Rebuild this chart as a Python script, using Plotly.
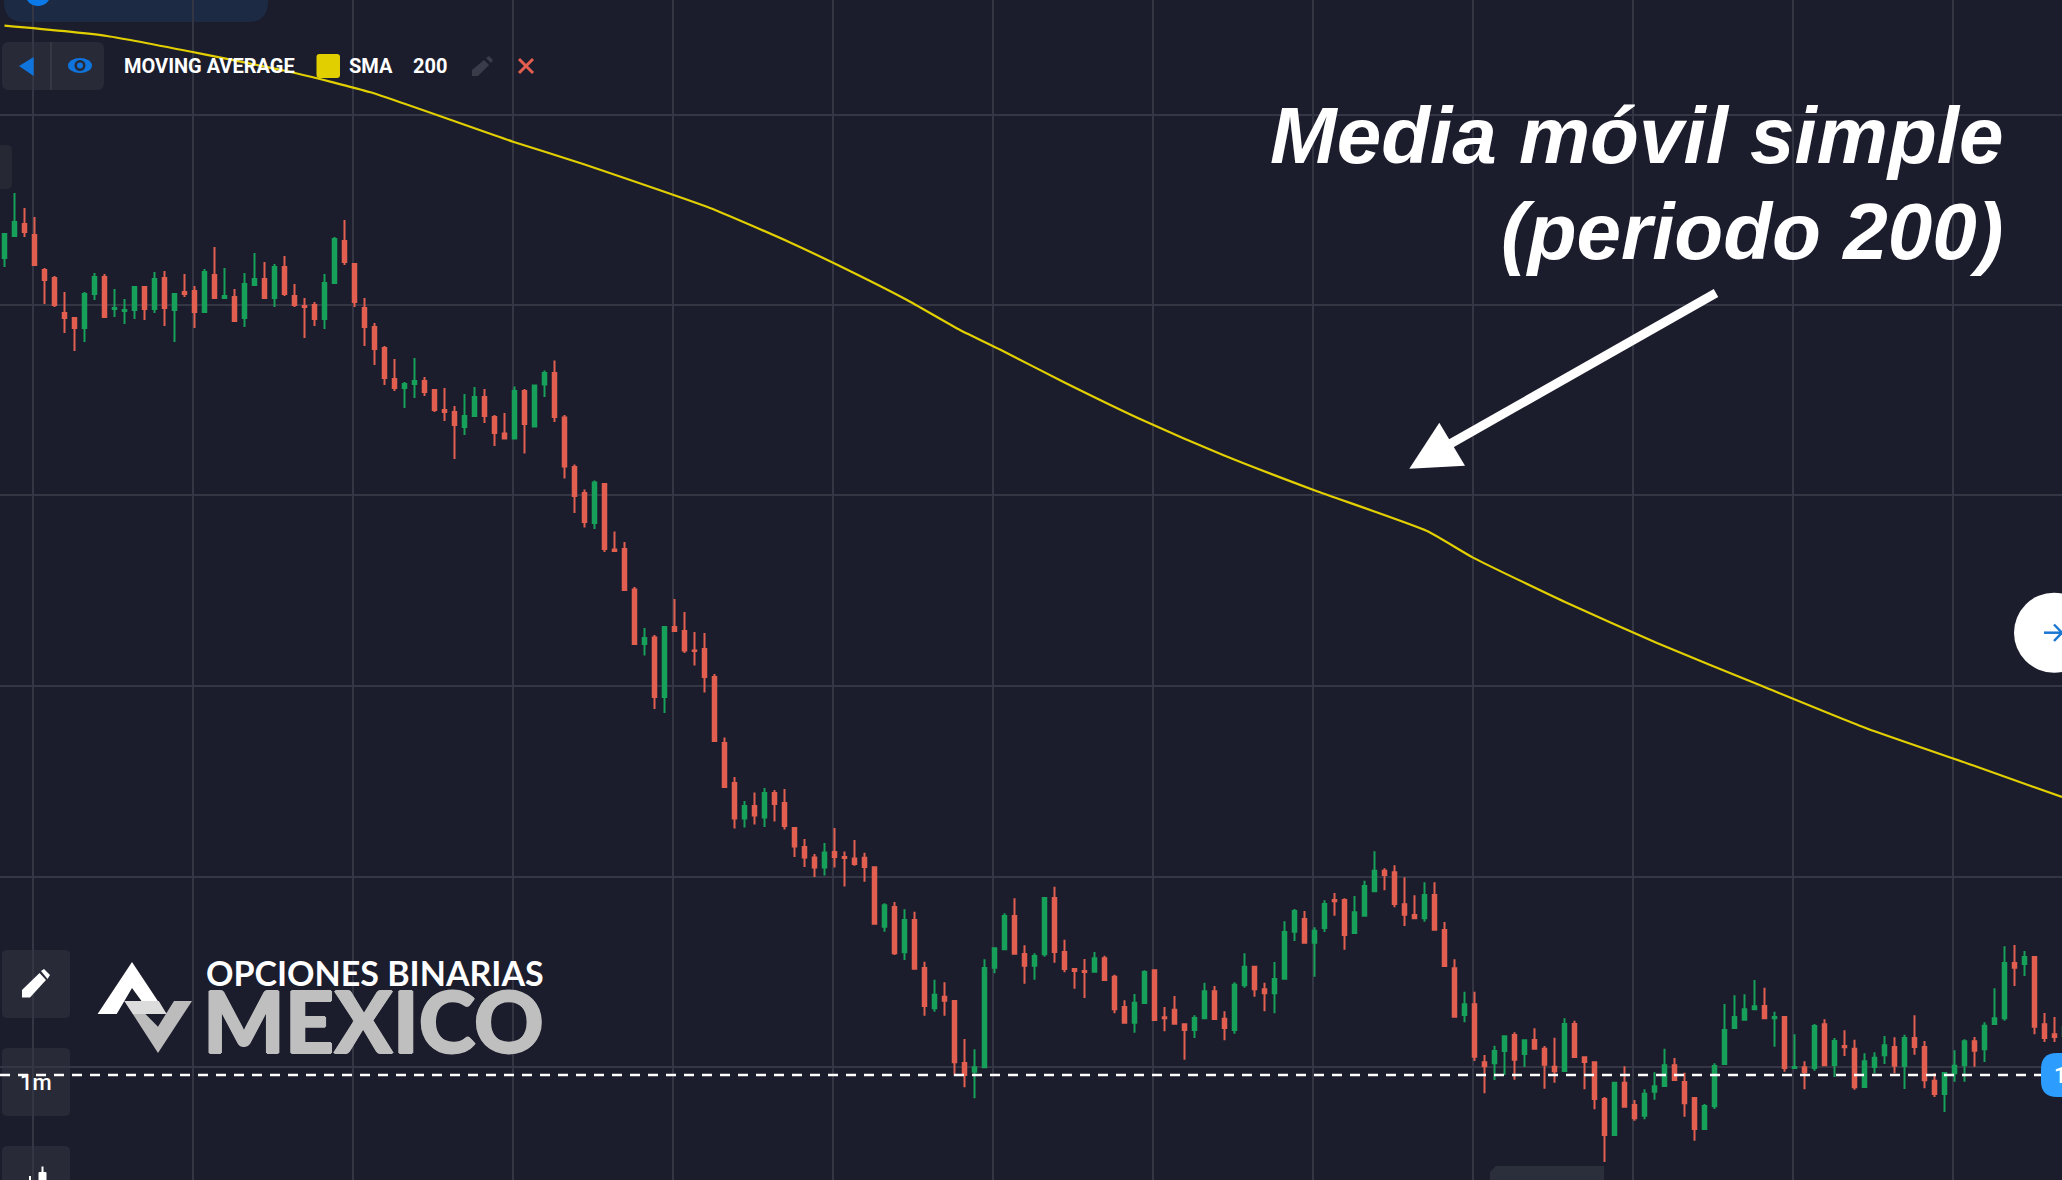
import numpy as np
import plotly.graph_objects as go

# all values, in pixels from the top edge
PAGE_W = 2062
PAGE_H = 1180

candle_dirs = (
    "GGRRRRRRGG" "RGGGRGRGRR" "GRGRGGRGRR" "RRGGRRRRRR" "GGRRRRGGRR"
    "RGRGGRRRRG" "RRRRGRGRRR" "RRRRGRGRRR" "RRGRRRRRGR" "GRRGRRRGGG"
    "GRRGGRRRRG" "RRRGGRRRRG" "GRRGGRRGGG" "RGGRRGGGRR" "RRGRRRGRRG"
    "GRGRRRGRRR" "RGRRGGGRRR" "GGGGGGRGRG" "RGRGRRGGGR" "GRRRGGGRGG"
    "GRGRRRG"
)

body_top = [
    234, 222, 224, 235, 270, 278, 313, 318, 294, 277,
    277, 308, 310, 287, 287, 279, 278, 294, 292, 291,
    272, 275, 296, 297, 284, 279, 279, 267, 267, 296,
    306, 305, 283, 239, 241, 264, 308, 327, 348, 379,
    384, 381, 381, 390, 410, 412, 416, 397, 397, 417,
    433.5, 391, 391, 385.5, 373, 373, 417.5, 467, 493, 482.5,
    484, 549.5, 549, 589.5, 638, 637.5, 627, 627, 631, 650.5,
    649, 677, 743, 783, 806, 806, 793, 793, 803, 828,
    847, 857.5, 852.5, 852, 857, 858.5, 857.7, 867.3, 905.3, 907,
    920, 920, 968, 994.7, 996.7, 1001, 1063, 1067.3, 968, 948.3,
    916, 916, 954, 956, 898, 898, 952, 969, 971, 958.3,
    958.3, 976.7, 1007, 1002.7, 972, 970.3, 1017.3, 1009.7, 1024.3, 1018,
    991.3, 991.3, 1018.7, 984.7, 966.7, 966.7, 989.3, 979, 932, 911,
    919, 930.7, 904, 900, 900, 912.3, 886, 870.7, 870.7, 872.3,
    904.3, 915, 895, 895, 930, 968.3, 1004.3, 1004.3, 1062.3, 1051,
    1036.3, 1035, 1040.3, 1040, 1048.7, 1066.7, 1024, 1024, 1057.3, 1062.3,
    1099, 1082.7, 1082.7, 1105, 1093.7, 1086.3, 1065.3, 1065.3, 1082, 1098,
    1106, 1066, 1030, 1017, 1009.3, 1006.3, 1006, 1017, 1017, 1067,
    1067.3, 1026, 1024.3, 1041, 1046, 1048.7, 1061.3, 1057.7, 1045.3, 1047,
    1038, 1038, 1047, 1080.7, 1073, 1065.7, 1041.3, 1041.3, 1025.7, 1018.3,
    963, 963, 957, 957, 1024.3, 1034.3, 1027,
]
body_bottom = [
    258, 236, 232, 265, 280, 305, 318, 328, 328, 294,
    317, 309, 311, 310, 309, 309, 308, 310, 294, 312,
    312, 298, 298, 321, 318, 285, 298, 298, 294, 305,
    307, 319, 319, 283, 262, 302, 327, 349, 378, 388,
    388, 384, 392, 410, 412, 425, 427, 416, 416, 433,
    438.5, 438.5, 424, 426.5, 384.5, 417, 466.5, 496, 522, 523,
    549, 551, 590, 644, 644, 697, 697, 631, 650.5, 651,
    677, 741, 787, 818.5, 818.5, 815.5, 817.5, 804, 826, 846.5,
    857.5, 867.5, 867.5, 857, 858, 864, 867, 923.7, 926.7, 953.3,
    952.3, 968.7, 1006, 1008.3, 1000.7, 1062.3, 1075, 1071.7, 1067.3, 967.7,
    949.3, 953.7, 965.7, 965.7, 954.3, 952, 969, 971, 972, 971.7,
    980, 1009.3, 1022.7, 1022.7, 1003, 1020, 1018.3, 1023.7, 1030, 1030,
    1018.3, 1019, 1028, 1030, 985.3, 989.3, 993.3, 993.3, 978.7, 931.7,
    942.7, 942.7, 928, 901.3, 935, 933, 915.7, 891.3, 875, 904,
    914.7, 918.3, 918.3, 929.7, 966, 1016.7, 1015, 1056.7, 1066.3, 1063.3,
    1051, 1059.7, 1054, 1048.7, 1064.7, 1071.3, 1071, 1057, 1062, 1099,
    1135, 1135, 1106.7, 1118.3, 1115.7, 1091.7, 1086, 1080, 1103.3, 1129,
    1129, 1106.3, 1064, 1028, 1019.7, 1009.3, 1018.3, 1018.3, 1068, 1068,
    1072.3, 1068, 1065.3, 1065, 1047.3, 1087.3, 1087, 1067, 1055.3, 1065.7,
    1066, 1047, 1080.3, 1094, 1094, 1073.3, 1065.3, 1050.7, 1049.3, 1024,
    1018.3, 967.7, 964, 1026.7, 1038, 1037, 1036,
]
wick_top = [
    233, 193, 208, 217, 268, 276, 292, 318, 292, 273,
    274, 289, 299, 286, 286, 272, 271, 294, 274, 286,
    269, 247, 268, 289, 273, 253, 262, 264, 256, 284,
    298, 302, 274, 237, 220, 264, 298, 323, 346, 359,
    382, 358, 377, 389, 388, 406, 394, 387, 389, 415,
    413, 386.5, 389, 385.5, 370.5, 360.5, 415, 464.5, 489.5, 480.5,
    484, 531.5, 542, 587, 628, 635, 627, 599, 612, 632,
    633, 674, 737.5, 777, 801, 792.5, 788, 790, 789, 828,
    839, 854, 843, 828, 851.5, 840, 852.7, 867.3, 903.3, 902,
    909.3, 911.7, 961.7, 979.7, 982.3, 1001, 1039, 1049.3, 959.3, 948.3,
    913.3, 898.3, 945.3, 953.3, 898, 886.7, 939.7, 969, 959, 952,
    955.7, 974.7, 1000.3, 994, 970.3, 970.3, 1007, 996, 1024.3, 1015.3,
    982.7, 986, 1011.3, 982.3, 953.3, 966.7, 982.7, 962, 921.3, 909,
    911, 927.3, 900.3, 893, 898.3, 896, 880.7, 851.3, 868.3, 865.3,
    877.3, 895.3, 882.3, 882.3, 922, 959.3, 991.7, 991.7, 1055, 1045.7,
    1036.3, 1032.3, 1040.3, 1028.3, 1046, 1037.7, 1018.3, 1020.7, 1057.3, 1062.3,
    1097, 1082.7, 1066.3, 1100, 1089.3, 1072.3, 1048.7, 1058, 1072.7, 1098,
    1104, 1063.3, 1004, 995.3, 994.3, 980, 987.7, 1011.7, 1017, 1034.3,
    1061.3, 1024, 1019.3, 1038, 1030.3, 1039.7, 1053.3, 1052.3, 1036, 1037.3,
    1034.7, 1015.3, 1041, 1073.3, 1073, 1050.3, 1039.3, 1037, 1022.3, 988.3,
    946.3, 945, 951, 957, 1013, 1017, 1020,
]
wick_bottom = [
    267, 236, 237, 265, 304, 307, 333, 351, 342, 300,
    318, 317, 324, 319, 320, 313, 326, 342, 297, 328,
    313, 299, 299, 321, 327, 286, 299, 307, 296, 307,
    338, 326, 329, 283, 265, 307, 346, 365, 385, 391,
    408, 398, 396, 412, 421, 459, 435, 416, 423, 446,
    439, 438.5, 453.5, 427, 397, 422, 478.5, 513, 527.5, 529,
    552, 551.5, 590, 645, 655.5, 709, 713, 631, 653, 665.5,
    692.5, 741, 787.5, 828.5, 827.5, 824.5, 827, 821.5, 829.5, 857,
    867, 877, 875.5, 867.5, 886.5, 865.7, 881.7, 923.7, 931.7, 955,
    960, 968.7, 1015.7, 1011.7, 1015.7, 1075.7, 1087.3, 1098.3, 1068, 973.3,
    949.3, 953.7, 983.7, 979.7, 956.7, 962.7, 972.3, 988.7, 998, 971.7,
    980.7, 1013.3, 1022.7, 1032.7, 1003.3, 1020, 1031.3, 1023.7, 1059.7, 1038,
    1018.3, 1019.7, 1040.3, 1033.7, 987.7, 996.7, 1011.3, 1013.3, 979, 941,
    942.7, 976.7, 932, 915.7, 949.7, 933, 915.7, 891.3, 890.3, 907.3,
    926, 918.3, 921.7, 929.7, 966, 1017.3, 1022.3, 1061, 1093.3, 1080,
    1075, 1079.7, 1067, 1048.7, 1088.7, 1082.7, 1071, 1057, 1089.3, 1109.3,
    1162, 1135, 1106.7, 1120.7, 1119.3, 1099.7, 1086, 1080.7, 1116.7, 1140.7,
    1129, 1109, 1064, 1028, 1019.7, 1009.3, 1018.3, 1046.7, 1071.7, 1068,
    1089.3, 1070.7, 1065.3, 1077, 1056, 1089.7, 1087, 1073.3, 1064, 1073.3,
    1089, 1054.7, 1088.3, 1097, 1112, 1081.7, 1081.7, 1066.7, 1062, 1024,
    1020.7, 986, 976, 1034.3, 1042, 1042, 1040,
]

sma_x = [4.5, 107, 295, 370.5, 513, 580, 710, 789, 855, 907, 960, 1000, 1065, 1144,
         1223, 1315, 1427, 1473, 1565, 1657, 1762, 1867, 1972, 2062]
sma_y = [25.7, 36, 73, 92.3, 141.7, 163, 208, 242, 273.5, 300, 330, 349.6, 382.7, 420.8,
         455, 490.5, 531, 557.6, 602, 643, 686, 728.5, 765, 797]

grid_x = [33, 193, 353, 513, 673, 833, 993, 1153, 1313, 1473, 1633, 1793, 1953]
grid_y = [115, 305, 495, 686, 877, 1067]
last_price_y = 1075

BG = "#1b1d2c"
GRID = "#343643"
RED = "#e25f50"
GREEN = "#17a05a"
YELLOW = "#e2cf00"
BLUE = "#0f74dc"
BUTTON = "#282a37"


def flip(y):
    return PAGE_H - y


def poly(points):
    return "M" + " L".join(f"{x},{flip(y)}" for x, y in points) + " Z"


def rrect(x0, y0, x1, y1, r):
    y0, y1 = flip(y0), flip(y1)
    return (f"M{x0+r},{y0} L{x1-r},{y0} Q{x1},{y0} {x1},{y0-r} L{x1},{y1+r} Q{x1},{y1} {x1-r},{y1} "
            f"L{x0+r},{y1} Q{x0},{y1} {x0},{y1+r} L{x0},{y0-r} Q{x0},{y0} {x0+r},{y0} Z")


def fill(path, color, layer="above"):
    return dict(type="path", path=path, fillcolor=color, line_width=0, layer=layer)


def stroke(x0, y0, x1, y1, color, width):
    return dict(type="line", x0=x0, x1=x1, y0=flip(y0), y1=flip(y1), line=dict(color=color, width=width))


def ellipse(x0, y0, x1, y1, color):
    return dict(type="circle", x0=x0, x1=x1, y0=flip(y0), y1=flip(y1), fillcolor=color, line_width=0)


def label(text, x, y, size, color="white", family="Roboto", weight=700, anchor="left", style="normal", shadow="none"):
    return dict(text=text, x=x, y=flip(y), xref="x", yref="y", showarrow=False, xanchor=anchor, yanchor="middle",
                font=dict(family=family, size=size, color=color, weight=weight, style=style, shadow=shadow))


is_green = np.array([d == "G" for d in candle_dirs])
top = flip(np.array(body_top))
bottom = flip(np.array(body_bottom))
candle_x = 4.5 + 10 * np.arange(len(candle_dirs))

fig = go.Figure()
fig.add_trace(go.Candlestick(
    x=candle_x,
    open=np.where(is_green, bottom, top),
    close=np.where(is_green, top, bottom),
    high=flip(np.array(wick_top)),
    low=flip(np.array(wick_bottom)),
    whiskerwidth=0,
    increasing=dict(line=dict(color=GREEN, width=2), fillcolor=GREEN),
    decreasing=dict(line=dict(color=RED, width=2), fillcolor=RED),
))
fig.add_trace(go.Scatter(x=sma_x, y=flip(np.array(sma_y)), mode="lines",
                         line=dict(color=YELLOW, width=2.2, shape="spline", smoothing=0.5)))

shapes = [
    # top pill and blue dot
    fill(rrect(4, -30, 268, 22, 20), "#1c2a43", "below"),
    ellipse(25, -20, 51, 6, "#0b79e8"),
    # indicator legend
    fill(rrect(2, 42, 104, 90, 7), BUTTON, "below"),
    stroke(51, 42, 51, 90, "#3a3c49", 1.5),
    fill(poly([(19, 66), (33.7, 57), (33.7, 76)]), BLUE),
    ellipse(68, 58, 92, 73, BLUE),
    ellipse(74.5, 60, 85.5, 71, BUTTON),
    ellipse(77, 62.5, 83, 68.5, BLUE),
    fill(rrect(316.5, 54, 340, 78, 3), YELLOW),
    fill(poly([(472, 76), (472, 70), (484, 60), (489, 65), (478, 76)]), "#3a3c49"),
    fill(poly([(486, 58), (489, 56), (493, 60), (491, 63)]), "#3a3c49"),
    stroke(519, 59, 533, 73, RED, 3),
    stroke(533, 59, 519, 73, RED, 3),
    # left side tab and buttons
    fill(rrect(-10, 145, 12, 189, 5), "#262834", "below"),
    fill(rrect(2, 950, 70, 1018, 5), BUTTON, "below"),
    fill(rrect(2, 1048, 70, 1116, 5), BUTTON, "below"),
    fill(rrect(2, 1146, 70, 1210, 5), BUTTON, "below"),
    fill(poly([(22, 997.5), (22, 990), (39.5, 973), (46, 980), (30, 997.5)]), "white"),
    fill(poly([(41, 971), (44, 969), (50, 975), (47.5, 979)]), "white"),
    fill(rrect(38.5, 1172, 46.5, 1190, 1), "white"),
    stroke(42.5, 1166.5, 42.5, 1172, "white", 2),
    stroke(30, 1176, 30, 1180, "white", 2),
    # bottom tab
    fill(poly([(1490, 1190), (1490, 1172), (1496, 1166), (1604, 1166), (1604, 1190)]), "#2b2e3b", "below"),
    # logo
    fill(poly([(97.6, 1014), (132, 962), (166.5, 1014), (151, 1014), (132, 988), (116.7, 1014)]), "white"),
    fill(poly([(124.4, 1001), (150, 1001), (145.4, 1014), (158, 1026.7), (174, 1001), (192, 1001), (158, 1053)]),
         "#bcbcbc"),
    fill(poly([(124.4, 1001), (158.8, 1001), (166.5, 1014), (133, 1014)]), "#dcdcdc"),
    # arrow
    stroke(1716, 293, 1450, 444, "white", 9),
    fill(poly([(1409.3, 468.7), (1439.3, 422.7), (1465, 465.7)]), "white"),
    # last price line
    dict(type="line", x0=0, x1=2041, y0=flip(last_price_y), y1=flip(last_price_y),
         line=dict(color="white", width=2.5, dash="10px,8px")),
    fill(rrect(2041, 1053, 2100, 1097, 16), "#2d9cff"),
    # scroll button
    ellipse(2014, 592.7, 2094, 672.7, "white"),
    stroke(2044, 632.7, 2064, 632.7, "#1a77d2", 2.5),
    stroke(2054, 624.5, 2062, 632.7, "#1a77d2", 2.5),
    stroke(2054, 641, 2062, 632.7, "#1a77d2", 2.5),
]

annotations = [
    label("MOVING AVERAGE", 122, 66, 20),
    label("SMA", 346.5, 66, 20),
    label("200", 410.5, 66, 20),
    label("1m", 36, 1082, 22, anchor="center", weight=500),
    label("1", 2060, 1075, 22, anchor="center", weight=500),
    label("Media móvil simple", 2006, 135, 80, family="Liberation Sans", anchor="right", style="italic"),
    label("(periodo 200)", 2005, 231, 80, family="Liberation Sans", anchor="right", style="italic"),
    label("OPCIONES BINARIAS", 204, 972, 34, family="Lato"),
    label("MEXICO", 201, 1019, 86, color="#bfbfbf", family="Lato", weight=900,
          shadow="1px 0 #bfbfbf, -1px 0 #bfbfbf, 0 1px #bfbfbf, 0 -1px #bfbfbf"),
]

fig.update_layout(
    width=PAGE_W,
    height=PAGE_H,
    margin=dict(l=0, r=0, t=0, b=0),
    paper_bgcolor=BG,
    plot_bgcolor=BG,
    showlegend=False,
    boxgap=0.5,
    shapes=shapes,
    annotations=annotations,
    xaxis=dict(range=[0, PAGE_W], tickvals=grid_x, showticklabels=False, ticks="", zeroline=False,
               showgrid=True, gridcolor=GRID, gridwidth=1.5, rangeslider=dict(visible=False)),
    yaxis=dict(range=[0, PAGE_H], tickvals=[flip(y) for y in grid_y], showticklabels=False, ticks="",
               zeroline=False, showgrid=True, gridcolor=GRID, gridwidth=1.5),
)

fig.write_html("out.html", config=dict(displayModeBar=False), post_script="document.body.style.margin='0';")
